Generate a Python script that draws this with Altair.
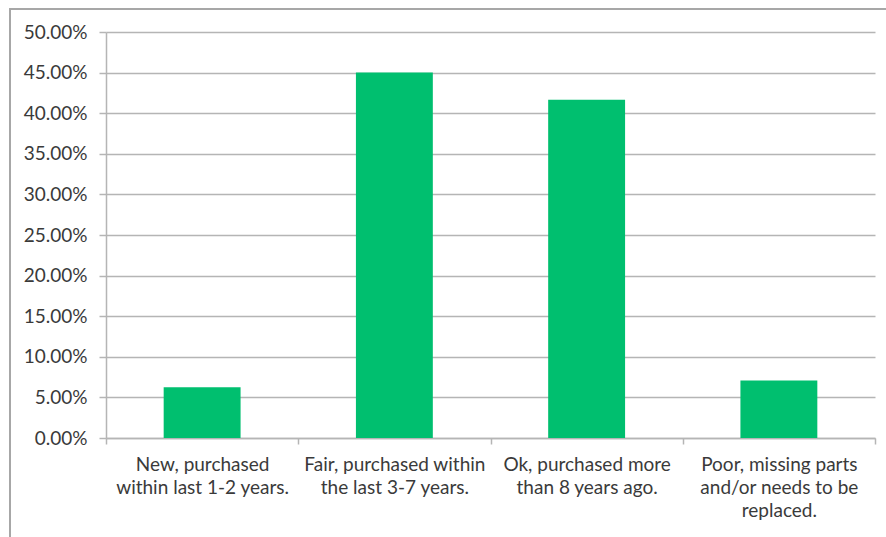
import altair as alt
import pandas as pd

categories = [
    "New, purchased within last 1-2 years.",
    "Fair, purchased within the last 3-7 years.",
    "Ok, purchased more than 8 years ago.",
    "Poor, missing parts and/or needs to be replaced.",
]
label_lines = [
    ["New, purchased", "within last 1-2 years."],
    ["Fair, purchased within", "the last 3-7 years."],
    ["Ok, purchased more", "than 8 years ago."],
    ["Poor, missing parts", "and/or needs to be", "replaced."],
]
values = [0.0625, 0.45, 0.4167, 0.0708]
y_ticks = [0, 0.05, 0.10, 0.15, 0.20, 0.25, 0.30, 0.35, 0.40, 0.45, 0.50]

df = pd.DataFrame({"category": categories, "value": values})

# labelExpr mapping category -> multi-line label
expr_parts = []
for c, lines in zip(categories, label_lines):
    arr = "[" + ",".join("'" + l + "'" for l in lines) + "]"
    expr_parts.append(f"datum.value == '{c}' ? {arr}")
label_expr = " : ".join(expr_parts) + " : datum.label"

FONT = "Lato"
TXT = "#3a3a3a"
GRID = "#b5b5b5"

bars = alt.Chart(df).mark_bar(
    color="#00BF6F", width=alt.RelativeBandSize(0.4)
).encode(
    x=alt.X(
        "category:N",
        sort=categories,
        scale=alt.Scale(paddingInner=0, paddingOuter=0),
        axis=alt.Axis(
            title=None,
            labelAngle=0,
            labelExpr=label_expr,
            labelFont=FONT,
            labelFontSize=19,
            labelColor=TXT,
            labelPadding=11,
            labelLineHeight=23,
            labelBaseline="top",
            labelLimit=400,
            labelOverlap=False,
            tickBand="extent",
            ticks=True,
            tickSize=6,
            tickColor=GRID,
            tickWidth=1.5,
            domainColor=GRID,
            domainWidth=1.5,
            grid=False,
        ),
    ),
    y=alt.Y(
        "value:Q",
        scale=alt.Scale(domain=[0, 0.5], nice=False),
        axis=alt.Axis(
            title=None,
            values=y_ticks,
            format=".2%",
            labelFont=FONT,
            labelFontSize=19,
            labelColor=TXT,
            labelPadding=12,
            tickSize=7,
            tickColor=GRID,
            tickWidth=1.5,
            domainColor=GRID,
            domainWidth=1.5,
            grid=True,
            gridColor=GRID,
            gridWidth=1.5,
        ),
    ),
)

frame = alt.Chart(df).mark_rect(
    fill="transparent", stroke="#a6a6a6", strokeWidth=1.5
).encode(
    x=alt.value(-96), x2=alt.value(900), y=alt.value(-23), y2=alt.value(600)
)

chart = alt.layer(frame, bars).properties(
    width=769,
    height=406,
    padding={"left": 106, "top": 32, "right": 11, "bottom": 99},
    autosize=alt.AutoSizeParams(type="none"),
    background="white",
).configure_view(stroke=None)

chart.save("out.html", embed_options={"renderer": "svg", "actions": False})
